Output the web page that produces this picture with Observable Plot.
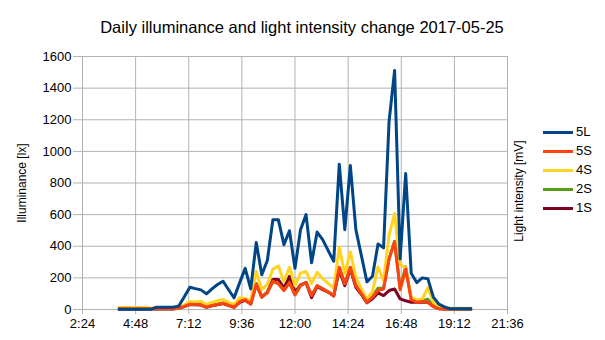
<!DOCTYPE html>
<html>
<head>
<meta charset="utf-8">
<script src="https://cdn.jsdelivr.net/npm/d3@7"></script>
<script src="https://cdn.jsdelivr.net/npm/@observablehq/plot@0.6"></script>
<style>
  html, body { margin: 0; padding: 0; background: #fff; }
  #wrap { position: relative; width: 605px; height: 340px; font-family: "Liberation Sans", Arial, sans-serif; color: #000; }
  .abs { position: absolute; white-space: nowrap; transform: translate(-50%, -50%); line-height: 1; }
  .rot { transform: translate(-50%, -50%) rotate(-90deg); }
  .leg { position: absolute; left: 543px; width: 574px; height: 0; }
  .leg .sw { position: absolute; left: 0; width: 30px; height: 3px; top: -1.5px; }
  .leg .lb { position: absolute; left: 33px; top: -7px; font-size: 13px; line-height: 14px; }
</style>
</head>
<body>
<div id="wrap"></div>
<script>
const tickLabels = ["2:24","4:48","7:12","9:36","12:00","14:24","16:48","19:12","21:36"];
const yTicks = [0,200,400,600,800,1000,1200,1400,1600];
const times = ["4:00","4:15","4:30","4:45","5:00","5:15","5:30","5:45","6:00","6:15","6:30","6:45",
  "7:00","7:15","7:30","7:45","8:00","8:15","8:30","8:45","9:00","9:15","9:30","9:45",
  "10:00","10:15","10:30","10:45","11:00","11:15","11:30","11:45","12:00","12:15","12:30","12:45",
  "13:00","13:15","13:30","13:45","14:00","14:15","14:30","14:45","15:00","15:15","15:30","15:45",
  "16:00","16:15","16:30","16:45","17:00","17:15","17:30","17:45","18:00","18:15","18:30","18:45",
  "19:00","19:15","19:30","19:45","20:00"];
const seriesNames = ["5L","5S","4S","2S","1S"];
const seriesColors = ["#004586","#ff420e","#ffd320","#579d1c","#7e0021"];
const s5L = [2,2,2,2,2,2,2,15,15,15,15,22,
  80,141,132,124,99,130,158,179,125,74,
  170,260,130,424,220,310,567,567,410,498,
  260,505,600,295,490,442,372,305,919,505,
  910,505,340,175,210,414,390,1190,1512,320,
  860,230,170,200,195,78,34,17,5,4,
  4,4,4];
const s5S = [5,5,5,5,5,5,5,5,5,5,5,10,
  20,34,32,30,15,25,32,40,27,15,
  50,62,36,160,78,105,180,162,120,170,
  92,150,172,88,151,130,110,88,267,162,
  267,151,100,46,78,120,130,320,428,125,
  256,61,46,50,46,19,5,3,3,3,
  3,3,3];
const s4S = [12,12,12,12,12,12,8,8,8,8,8,10,
  30,50,48,52,32,44,55,63,45,32,
  75,70,55,240,125,160,255,275,175,267,
  150,230,240,165,235,195,165,135,393,225,
  365,204,130,67,112,270,180,470,607,285,
  265,78,61,67,137,46,19,11,8,8,
  8,8,8];
const s2S = [4,4,4,4,4,4,4,4,4,4,4,10,
  20,35,33,31,16,26,33,41,28,16,
  52,64,38,165,80,108,175,165,122,168,
  95,152,170,90,150,132,112,90,262,165,
  265,155,102,48,82,135,135,320,432,130,
  271,65,50,55,65,22,6,3,3,3,
  3,3,3];
const s1S = [3,3,3,3,3,3,3,3,3,3,3,8,
  18,32,30,28,14,24,30,38,25,14,
  45,58,34,158,80,110,190,190,135,210,
  110,155,170,75,145,125,110,85,250,150,
  255,140,95,42,68,105,88,120,130,67,
  55,46,46,46,46,19,4,3,3,3,
  3,3,3];
const titleText = "Daily illuminance and light intensity change 2017-05-25";
const yTitle = "Illuminance [lx]";
const y2Title = "Light intensity [mV]";

const toMin = s => { const [h, m] = s.split(":").map(Number); return h * 60 + m; };
const fmt = v => Math.floor(v / 60) + ":" + String(Math.round(v % 60)).padStart(2, "0");
const seriesValues = [s5L, s5S, s4S, s2S, s1S];
const rows = [];
seriesNames.forEach((name, k) => {
  times.forEach((t, i) => rows.push({series: name, t: toMin(t), v: seriesValues[k][i]}));
});
const drawOrder = ["1S","2S","4S","5S","5L"];
const grid = "#b3b3b3";

const chart = Plot.plot({
  width: 605, height: 340,
  marginLeft: 82, marginRight: 98, marginTop: 56, marginBottom: 31,
  style: {fontFamily: "'Liberation Sans', Arial, sans-serif", fontSize: "13px", background: "transparent", color: "#000"},
  x: {domain: [toMin(tickLabels[0]), toMin(tickLabels[tickLabels.length - 1])]},
  y: {domain: [yTicks[0], yTicks[yTicks.length - 1]]},
  marks: [
    Plot.gridX(tickLabels.map(toMin), {stroke: grid, strokeOpacity: 1}),
    Plot.gridY(yTicks, {stroke: grid, strokeOpacity: 1}),
    Plot.axisX({ticks: tickLabels.map(toMin), tickFormat: fmt, tickSize: 5, tickPadding: 4, stroke: grid, label: null, fontSize: 13}),
    Plot.axisY({ticks: yTicks, tickFormat: d => String(d), tickSize: 9, tickPadding: 2, stroke: grid, label: null, fontSize: 13}),
    Plot.ruleX([toMin(tickLabels[tickLabels.length - 1])], {stroke: grid}),
    ...drawOrder.map(name => Plot.line(rows.filter(r => r.series === name), {
      x: "t", y: "v",
      stroke: seriesColors[seriesNames.indexOf(name)],
      strokeWidth: 3, strokeLinejoin: "round", strokeLinecap: "butt"
    }))
  ]
});

const wrap = document.getElementById("wrap");
wrap.appendChild(chart);
chart.style.position = "absolute"; chart.style.left = "0"; chart.style.top = "0";

function addText(text, x, y, size, cls) {
  const d = document.createElement("div");
  d.className = "abs" + (cls ? " " + cls : "");
  d.style.left = x + "px"; d.style.top = y + "px"; d.style.fontSize = size + "px";
  d.textContent = text;
  wrap.appendChild(d);
}
addText(titleText, 302, 27, 16.5);
addText(yTitle, 22, 183, 12, "rot");
addText(y2Title, 519, 191, 12, "rot");

seriesNames.forEach((name, k) => {
  const g = document.createElement("div");
  g.className = "leg";
  g.style.top = (132.3 + k * 19) + "px";
  const sw = document.createElement("div"); sw.className = "sw"; sw.style.background = seriesColors[k];
  const lb = document.createElement("div"); lb.className = "lb"; lb.textContent = name;
  g.appendChild(sw); g.appendChild(lb);
  wrap.appendChild(g);
});
</script>
</body>
</html>
